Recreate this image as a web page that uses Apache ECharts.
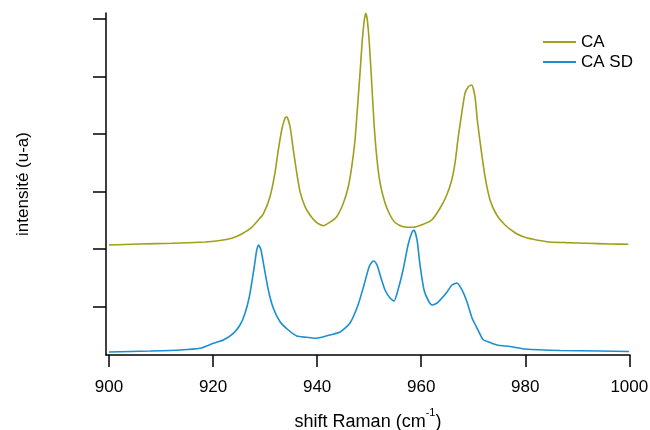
<!DOCTYPE html>
<html>
<head>
<meta charset="utf-8">
<script src="https://cdn.jsdelivr.net/npm/echarts@6/dist/echarts.min.js"></script>
<style>html,body{margin:0;padding:0;background:#fff;}#c{width:650px;height:430px;}</style>
</head>
<body>
<div id="c"></div>
<script>
var seriesNames = ['CA', 'CA SD'];
var xTickValues = [900, 920, 940, 960, 980, 1000];
var yTickValues = [10, 20, 30, 40, 50, 60];

var caX = [900.00, 905.63, 912.05, 918.45, 921.01, 923.58, 925.50, 927.43, 928.70, 929.66, 930.94, 931.90, 932.54, 933.19, 933.83, 934.15, 934.79, 935.42, 936.08, 936.71, 937.67, 938.63, 939.92, 941.19, 942.47, 943.76, 945.03, 945.99, 946.65, 947.28, 947.72, 948.24, 948.68, 949.07, 949.34, 949.64, 950.03, 950.49, 950.93, 951.45, 952.09, 953.05, 954.01, 954.97, 956.56, 958.49, 960.41, 962.02, 963.62, 964.91, 965.87, 966.50, 967.13, 967.79, 968.42, 969.06, 969.71, 970.34, 970.78, 971.44, 972.27, 973.23, 974.51, 976.11, 978.03, 979.63, 981.55, 984.12, 987.97, 991.81, 996.29, 999.81];
var caY = [20.70, 20.87, 20.99, 21.22, 21.44, 21.86, 22.61, 23.77, 25.04, 26.09, 29.10, 33.22, 37.22, 40.70, 42.78, 43.01, 41.27, 37.22, 33.22, 29.97, 27.36, 25.91, 24.57, 24.05, 24.66, 25.62, 27.95, 30.83, 34.31, 38.96, 44.17, 50.56, 56.35, 59.83, 60.99, 59.83, 55.77, 48.87, 41.91, 36.05, 31.48, 28.00, 25.91, 24.61, 23.88, 23.77, 24.30, 25.04, 27.08, 29.39, 32.00, 34.96, 39.53, 43.60, 47.08, 48.23, 48.52, 46.49, 42.43, 37.79, 32.57, 28.52, 25.91, 24.17, 22.83, 22.14, 21.69, 21.27, 21.10, 20.99, 20.87, 20.82];

var sdX = [900.00, 907.88, 913.65, 917.49, 920.05, 921.97, 923.89, 925.18, 926.14, 926.97, 927.62, 928.06, 928.39, 928.77, 929.21, 929.79, 930.62, 931.58, 932.87, 934.46, 936.08, 938.00, 939.59, 940.88, 942.47, 944.40, 946.32, 947.86, 949.01, 949.97, 950.55, 950.93, 951.51, 952.28, 953.05, 954.01, 954.78, 955.54, 956.51, 957.47, 958.24, 958.62, 959.20, 959.77, 960.54, 961.31, 962.08, 963.04, 964.00, 964.96, 965.92, 966.88, 967.84, 968.81, 969.77, 970.92, 971.88, 973.23, 974.57, 977.07, 979.95, 986.68, 994.37, 999.94];
var sdY = [2.09, 2.26, 2.43, 2.73, 3.60, 4.17, 5.34, 6.78, 8.82, 11.70, 15.18, 17.79, 19.83, 20.70, 19.83, 16.92, 12.87, 9.69, 7.36, 5.91, 4.87, 4.64, 4.47, 4.64, 5.04, 5.57, 7.13, 10.26, 13.74, 16.87, 17.74, 17.91, 17.22, 14.96, 12.87, 11.48, 10.96, 12.87, 16.35, 20.70, 22.96, 23.30, 21.57, 17.22, 12.87, 11.13, 10.26, 10.61, 11.48, 12.52, 13.74, 14.09, 12.87, 10.78, 8.00, 5.91, 4.26, 3.74, 3.30, 3.04, 2.61, 2.35, 2.26, 2.17];

function pairs(xs, ys) { return xs.map(function (x, i) { return [x, ys[i]]; }); }

var chart = echarts.init(document.getElementById('c'), null, {renderer: 'canvas'});
var font = '"Liberation Sans", Arial, sans-serif';
chart.setOption({
  animation: false,
  backgroundColor: '#ffffff',
  textStyle: {fontFamily: font},
  grid: {left: 106, right: 20, top: 13, bottom: 75, containLabel: false, outerBoundsMode: 'none'},
  legend: {
    orient: 'vertical', left: 538, top: 27,
    icon: 'rect', itemWidth: 33, itemHeight: 2, itemGap: 0,
    textStyle: {fontSize: 17, color: '#000', fontFamily: font, lineHeight: 20},
    data: seriesNames
  },
  xAxis: {
    type: 'value', min: 899.42, max: 1000.13,
    name: '{a|shift Raman (cm}{s|-1}{a|)}',
    nameLocation: 'middle', nameGap: 52,
    nameTextStyle: {
      rich: {
        a: {fontSize: 18, color: '#000', fontFamily: font, lineHeight: 30},
        s: {fontSize: 11, color: '#000', fontFamily: font, verticalAlign: 'top'}
      }
    },
    axisLine: {onZero: false, lineStyle: {color: '#000', width: 1.5}},
    axisTick: {show: true, inside: false, length: 12, lineStyle: {color: '#000', width: 1.5}, customValues: xTickValues},
    axisLabel: {color: '#000', fontSize: 17, fontFamily: font, margin: 24, customValues: xTickValues,
      formatter: function (v) { return String(v); }},
    splitLine: {show: false}
  },
  yAxis: {
    type: 'value', min: 1.565, max: 61.04,
    name: 'intensité (u-a)', nameLocation: 'middle', nameGap: 74,
    nameTextStyle: {fontSize: 17, color: '#000', fontFamily: font},
    axisLine: {show: true, onZero: false, lineStyle: {color: '#000', width: 1.5}},
    axisTick: {show: true, inside: false, length: 13, lineStyle: {color: '#000', width: 1.5}, customValues: yTickValues},
    axisLabel: {show: false, customValues: yTickValues},
    splitLine: {show: false}
  },
  series: [
    {name: seriesNames[0], type: 'line', data: pairs(caX, caY), symbol: 'none', showSymbol: false,
     smooth: 0.2,
     lineStyle: {color: '#9f9f1c', width: 1.6}, itemStyle: {color: '#9f9f1c'}},
    {name: seriesNames[1], type: 'line', data: pairs(sdX, sdY), symbol: 'none', showSymbol: false,
     smooth: 0.2,
     lineStyle: {color: '#1a8fd1', width: 1.6}, itemStyle: {color: '#1a8fd1'}}
  ]
});
</script>
</body>
</html>
